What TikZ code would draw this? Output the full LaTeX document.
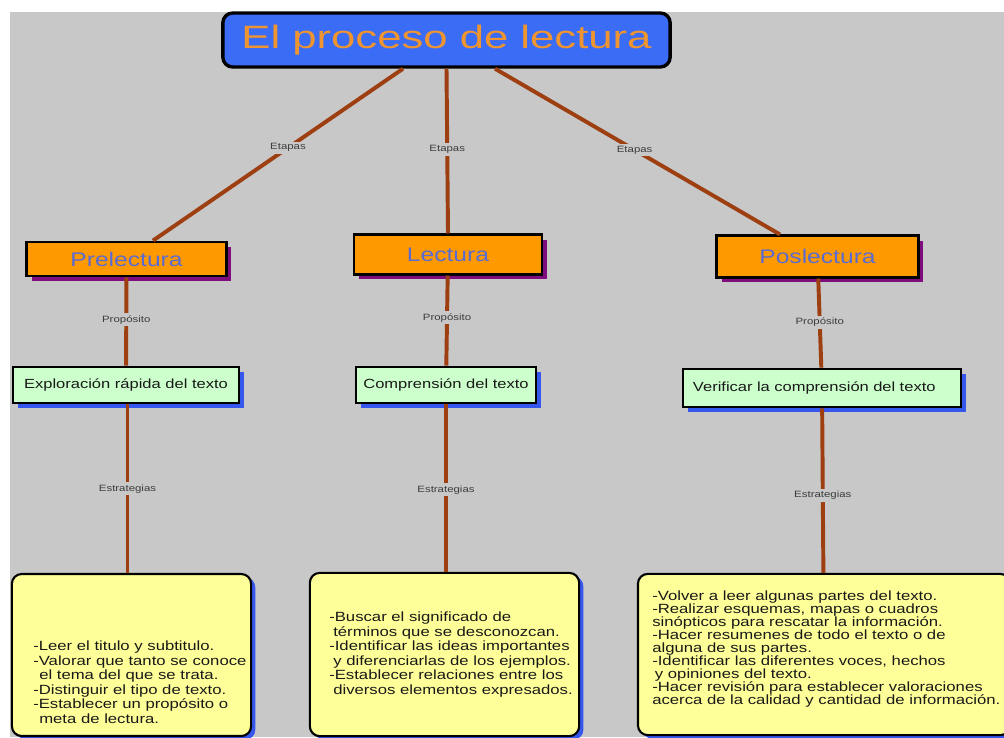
\documentclass[tikz,border=0pt]{standalone}
\usepackage{fontspec}
\setmainfont{Liberation Sans}[FakeStretch=1.25]
\newfontfamily\titlefont{Liberation Sans}[FakeStretch=1.35]
\usepackage{xcolor}
\usetikzlibrary{calc,shadows}
\definecolor{mapGray}{HTML}{C8C8C8}
\definecolor{linkBrown}{HTML}{9E3F12}
\definecolor{labelGray}{HTML}{3C3C3C}
\definecolor{titleBlue}{HTML}{3B6CF6}
\definecolor{titleOrange}{HTML}{EE9430}
\definecolor{stageOrange}{HTML}{FF9900}
\definecolor{stageText}{HTML}{5A6BD2}
\definecolor{shadePurple}{HTML}{7E0D7E}
\definecolor{goalGreen}{HTML}{CCFFCC}
\definecolor{shadeBlue}{HTML}{3657EE}
\definecolor{noteYellow}{HTML}{FFFF99}
\tikzset{
  link/.style={draw=linkBrown, line width=2.8pt},
  linkLabel/.style={fill=mapGray, text=labelGray, inner sep=1.5pt, font={\fontsize{6.5}{7}\selectfont}},
  titleBox/.style={rectangle, rounded corners=7pt, draw=black, line width=2.4pt, fill=titleBlue, text=titleOrange, minimum width=11.18cm, minimum height=1.35cm, font={\titlefont\fontsize{23}{26}\selectfont}},
  stageBox/.style={rectangle, draw=black, line width=2pt, fill=stageOrange, text=stageText, font={\fontsize{14}{16}\selectfont}, drop shadow={shadow xshift=3.4pt, shadow yshift=-3.4pt, fill=shadePurple, opacity=1}},
  goalBox/.style={rectangle, draw=black, line width=2pt, fill=goalGreen, text=black!90, minimum height=0.9cm, font={\fontsize{9.4}{11}\selectfont}, drop shadow={shadow xshift=3.4pt, shadow yshift=-3.4pt, fill=shadeBlue, opacity=1}},
  noteBox/.style={rectangle, rounded corners=7pt, draw=black, line width=1.5pt, fill=noteYellow, drop shadow={shadow xshift=3pt, shadow yshift=-2.5pt, fill=shadeBlue, opacity=1}},
  noteText/.style={anchor=north west, inner sep=0pt, align=left, text=black!90, font={\fontsize{9.5}{10.3}\selectfont\lineskiplimit=-10pt}}
}

\begin{document}
\begin{tikzpicture}[x=0.025cm,y=-0.025cm]
\useasboundingbox (0,0) rectangle (1004,737);
\clip (0,0) rectangle (1004,737);
\fill[white] (0,0) rectangle (1004,737);
\fill[mapGray] (10,12) rectangle (1004,737);

% --------------------------------------------------------------------------
% Title and stages
% --------------------------------------------------------------------------
\node[titleBox] (title) at (446.5,40) {El proceso de lectura};

\node[stageBox, minimum width=4.98cm, minimum height=0.85cm] (pre) at (126.5,259) {Prelectura};
\node[stageBox, minimum width=4.7cm, minimum height=0.98cm] (lec) at (448,254.5) {Lectura};
\node[stageBox, minimum width=5.03cm, minimum height=1.03cm] (pos) at (817.5,256.5) {Poslectura};

% --------------------------------------------------------------------------
% Purposes
% --------------------------------------------------------------------------
\node[goalBox, minimum width=5.65cm] (explo) at (126,385) {Exploración rápida del texto};
\node[goalBox, minimum width=4.5cm] (comp) at (446,385) {Comprensión del texto};
\node[goalBox, inner xsep=7.1pt, text width=6.45cm, minimum height=0.95cm, align=left] (veri) at (822,388) {Verificar la comprensión del texto};

% --------------------------------------------------------------------------
% Strategies
% --------------------------------------------------------------------------
\node[noteBox, minimum width=5.98cm, minimum height=4.05cm] (notePre) at (131.5,655) {};
\node[noteBox, minimum width=6.73cm, minimum height=4.08cm] (noteLec) at (444.5,654.5) {};
\node[noteBox, minimum width=9.3cm, minimum height=4.03cm] (notePos) at (824,654.5) {};

\node[noteText] (tipsPre) at (33,641) {-Leer el titulo y subtitulo.\\
  -Valorar que tanto se conoce\\
  \hspace*{0.45em}el tema del que se trata.\\
  -Distinguir el tipo de texto.\\
  -Establecer un propósito o\\
  \hspace*{0.45em}meta de lectura.};
\node[noteText] (tipsLec) at (329,612) {-Buscar el significado de\\
  \hspace*{0.3em}términos que se desconozcan.\\
  -Identificar las ideas importantes\\
  \hspace*{0.3em}y diferenciarlas de los ejemplos.\\
  -Establecer relaciones entre los\\
  \hspace*{0.3em}diversos elementos expresados.};
\node[noteText, font={\fontsize{9.5}{9.2}\selectfont\lineskiplimit=-10pt}] (tipsPos) at (652,591) {-Volver a leer algunas partes del texto.\\
  -Realizar esquemas, mapas o cuadros\\
  sinópticos para rescatar la información.\\
  -Hacer resumenes de todo el texto o de\\
  alguna de sus partes.\\
  -Identificar las diferentes voces, hechos\\
  \hspace*{0.2em}y opiniones del texto.\\
  -Hacer revisión para establecer valoraciones\\
  acerca de la calidad y cantidad de información.};

% --------------------------------------------------------------------------
% Connectors
% --------------------------------------------------------------------------
\draw[link] ($(title.south)+(-43.5,0)$) -- node[linkLabel, pos=0.46] (stepPre) {Etapas} ($(pre.north)+(26.5,0)$);
\draw[link] (title.south) -- node[linkLabel, pos=0.49] (stepLec) {Etapas} (lec.north);
\draw[link] ($(title.south)+(48.5,0)$) -- node[linkLabel, pos=0.49] (stepPos) {Etapas} ($(pos.north)+(-37.5,0)$);

\draw[link] (pre) -- node[linkLabel, pos=0.48] (aimPre) {Propósito} (explo);
\draw[link] (lec) -- node[linkLabel, pos=0.47] (aimLec) {Propósito} (comp);
\draw[link] (pos) -- node[linkLabel, pos=0.49] (aimPos) {Propósito} (veri);

\draw[link] ($(explo.south)+(1.5,0)$) -- node[linkLabel, pos=0.5] (wayPre) {Estrategias} ($(explo.south |- notePre.north)+(1.5,0)$);
\draw[link] (comp.south) -- node[linkLabel, pos=0.51] (wayLec) {Estrategias} (comp.south |- noteLec.north);
\draw[link] (veri) -- node[linkLabel, pos=0.53] (wayPos) {Estrategias} (notePos);

\end{tikzpicture}
\end{document}
